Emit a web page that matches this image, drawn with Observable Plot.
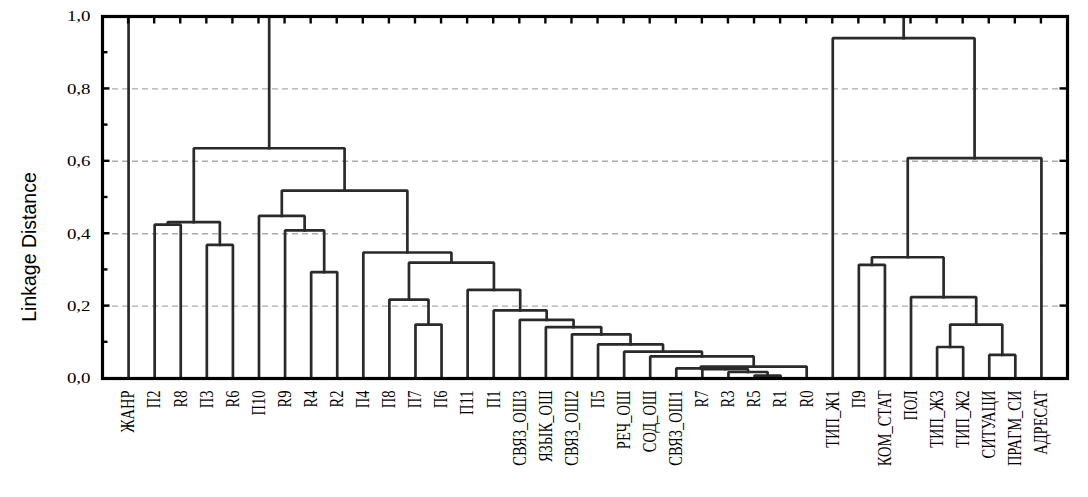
<!DOCTYPE html>
<html>
<head>
<meta charset="utf-8">
<script src="https://cdn.jsdelivr.net/npm/d3@7"></script>
<script src="https://cdn.jsdelivr.net/npm/@observablehq/plot@0.6"></script>
<style>
  html, body { margin: 0; padding: 0; background: #fff; }
  #chart { width: 1088px; height: 497px; }
</style>
</head>
<body>
<div id="chart"></div>
<script>
// Leaf order along the x axis
const leaves = ["ЖАНР","П2","R8","П3","R6","П10","R9","R4","R2","П4","П8","П7","П6","П11","П1",
  "СВЯЗ_ОШ3","ЯЗЫК_ОШ","СВЯЗ_ОШ2","П5","РЕЧ_ОШ","СОД_ОШ","СВЯЗ_ОШ1","R7","R3","R5","R1","R0",
  "ТИП_Ж1","П9","КОМ_СТАТ","ПОЛ","ТИП_Ж3","ТИП_Ж2","СИТУАЦИ","ПРАГМ_СИ","АДРЕСАТ"];

// Merges: child is a leaf name or "#k" (k-th merge); distance = linkage distance
const mergeA = ["R5","R3","R7","СВЯЗ_ОШ1","#3","СОД_ОШ","РЕЧ_ОШ","П5","СВЯЗ_ОШ2","ЯЗЫК_ОШ","СВЯЗ_ОШ3","П1","П11",
  "П7","П8","#14","П4","R4","R9","П10","#19","П3","П2","#22","#23","ЖАНР",
  "СИТУАЦИ","ТИП_Ж3","#27","ПОЛ","П9","#30","#31","ТИП_Ж1","#25"];
const mergeB = ["R1","#0","#1","#2","R0","#4","#5","#6","#7","#8","#9","#10","#11",
  "П6","#13","#12","#15","R2","#17","#18","#16","R6","R8","#21","#20","#24",
  "ПРАГМ_СИ","ТИП_Ж2","#26","#28","КОМ_СТАТ","#29","АДРЕСАТ","#32","#33"];
const mergeDist = [0.008,0.018,0.026,0.028,0.033,0.061,0.074,0.094,0.122,0.142,0.162,0.188,0.245,
  0.149,0.218,0.320,0.348,0.294,0.409,0.449,0.519,0.369,0.425,0.432,0.636,1.05,
  0.065,0.087,0.149,0.225,0.314,0.335,0.609,0.940,1.10];

const yTicks = [0, 0.2, 0.4, 0.6, 0.8, 1.0];
const yMinor = [0.1, 0.3, 0.5, 0.7, 0.9];
const gridValues = [0.2, 0.4, 0.6, 0.8];

// Build the dendrogram paths (leaf-index x, distance y)
const nodeX = [], nodeY = [];
function pos(c) {
  if (c.startsWith("#")) { const k = +c.slice(1); return [nodeX[k], nodeY[k]]; }
  return [leaves.indexOf(c), 0];
}
const segs = [];
mergeA.forEach((a, k) => {
  const [xa, ya] = pos(a), [xb, yb] = pos(mergeB[k]), h = mergeDist[k];
  nodeX[k] = (xa + xb) / 2; nodeY[k] = h;
  segs.push({id: k, x: xa, y: ya}, {id: k, x: xa, y: h}, {id: k, x: xb, y: h}, {id: k, x: xb, y: yb});
});

const fmt = d => d.toFixed(1).replace(".", ",");

const W = 1088, H = 497, mL = 102, mR = 21, mT = 16, mB = 119;
const tickLen = 7.5, minorLen = 5.5;

const plot = Plot.plot({
  width: W,
  height: H,
  marginLeft: mL,
  marginRight: mR,
  marginTop: mT,
  marginBottom: mB,
  style: {fontFamily: "'Liberation Serif', 'Times New Roman', serif", color: "#000", background: "#fff"},
  x: {domain: [-1, leaves.length], label: null},
  y: {domain: [0, 1], label: null},
  marks: [
    Plot.ruleY(gridValues, {stroke: "#ababab", strokeWidth: 1.4, strokeDasharray: "6,4"}),
    Plot.line(segs, {x: "x", y: "y", z: "id", stroke: "#2a2a2a", strokeWidth: 2.7, strokeLinejoin: "miter", strokeLinecap: "square", clip: true}),
    Plot.frame({stroke: "#000", strokeWidth: 3.2}),
    Plot.axisY(yTicks, {tickFormat: fmt, tickSize: 0, tickPadding: 12, fontSize: 15.5, label: null}),
    Plot.axisX(d3.range(leaves.length), {tickFormat: i => leaves[i], tickRotate: -90, tickSize: 0, tickPadding: 12, fontSize: 14.5, label: null})
  ]
});

document.getElementById("chart").appendChild(plot);

// inward tick marks placed with the plot's own scales
const sx = plot.scale("x"), sy = plot.scale("y");
const svg = d3.select(plot);
const tg = svg.append("g");
const xL = sx.apply(-1), xR = sx.apply(leaves.length), yTop = sy.apply(1);
function tick(x1, y1, x2, y2) {
  tg.append("line").attr("x1", x1).attr("y1", y1).attr("x2", x2).attr("y2", y2)
    .attr("stroke", "#000").attr("stroke-width", 2.4);
}
d3.range(leaves.length).forEach(i => {
  const x = sx.apply(i);
  tick(x, yTop, x, yTop + tickLen);
});
gridValues.forEach(v => {
  const y = sy.apply(v);
  tick(xL, y, xL + tickLen, y);
  tick(xR, y, xR - tickLen, y);
});
yMinor.forEach(v => {
  const y = sy.apply(v);
  tick(xL, y, xL + minorLen, y);
});

// mimic the horizontally stretched type of the original
svg.selectAll('g[aria-label="y-axis tick label"] text').each(function() {
  const t = this.getAttribute("transform") || "";
  this.setAttribute("transform", t + " scale(1.22,1)");
});
svg.selectAll('g[aria-label="x-axis tick label"] text').each(function() {
  const t = this.getAttribute("transform") || "";
  this.setAttribute("transform", t + " scale(1,1.25)");
});

// y axis title
svg.append("text")
  .attr("transform", "translate(36,247) rotate(-90)")
  .attr("text-anchor", "middle")
  .attr("font-family", "'Liberation Sans', Arial, sans-serif")
  .attr("font-size", 19.5)
  .attr("fill", "#000")
  .text("Linkage Distance");
</script>
</body>
</html>
